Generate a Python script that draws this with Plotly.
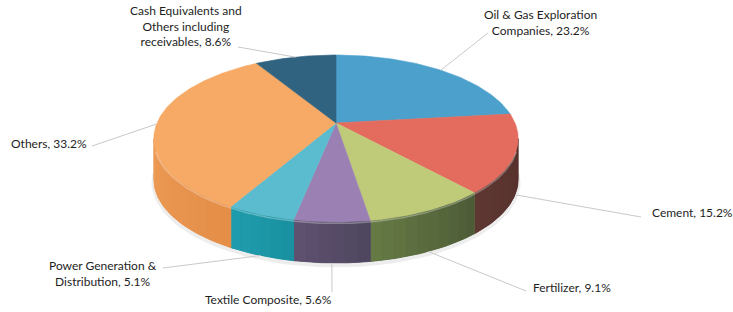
import numpy as np
import plotly.graph_objects as go

# ---------------- data ----------------
labels = ["Oil & Gas Exploration<br>Companies", "Cement", "Fertilizer",
          "Textile Composite", "Power Generation &<br>Distribution", "Others",
          "Cash Equivalents and<br>Others including<br>receivables"]
values = [23.2, 15.2, 9.1, 5.6, 5.1, 33.2, 8.6]

# ---------------- styles ----------------
top_colors = ["#4BA0CC", "#E36C5F", "#BFCB79", "#9B80B3", "#5BBCCF", "#F6AA65", "#2F6380"]
# side colour at the right end (lower angle) and left end (higher angle) of each wall
side_right = ["#2F6A88", "#55302B", "#4C5A36", "#4E465E", "#19909F", "#E48E48", "#1E4255"]
side_left = ["#3A7FA3", "#5E3732", "#667B45", "#5F5171", "#1F9DAE", "#ED9B56", "#244E66"]

# label placement (annotation anchor, leader line end)
label_pos = [
    dict(x=540, y=22, xanchor="center", align="center", lx=488, ly=33),
    dict(x=650, y=212, xanchor="left", align="left", lx=641, ly=217),
    dict(x=531, y=287, xanchor="left", align="left", lx=526, ly=291),
    dict(x=334, y=299, xanchor="right", align="left", lx=332, ly=292),
    dict(x=103, y=273, xanchor="center", align="center", lx=163, ly=268),
    dict(x=89, y=143, xanchor="right", align="left", lx=92, ly=146),
    dict(x=186, y=26, xanchor="center", align="center", lx=238, ly=47),
]

# ---------------- geometry (pixel space) ----------------
W, H = 733, 312
CX, CY = 336, 123
A, B, K = 179, 80.6, 0.1856
DEPTH = 41


def proj(theta_deg, dy=0.0):
    t = np.radians(theta_deg)
    u, v = np.sin(t), np.cos(t)
    w = 1 + K * v
    return CX + A * u / w, CY - B * v / w + dy


theta_r = np.degrees(np.arccos(-K))
theta_l = 360 - theta_r

fig = go.Figure()

total = float(sum(values))
cum = np.concatenate([[0], np.cumsum(values)]) / total * 360.0


def hex2rgb(h):
    h = h.lstrip("#")
    return np.array([int(h[i:i + 2], 16) for i in (0, 2, 4)], dtype=float)


def mix(c1, c2, f):
    c = hex2rgb(c1) * (1 - f) + hex2rgb(c2) * f
    return "rgb(%d,%d,%d)" % tuple(np.round(c).astype(int))


def wall(t0, t1, col, lw):
    tt = np.linspace(t0, t1, max(6, int(t1 - t0)))
    xt, yt = proj(tt)
    xb, yb = proj(tt[::-1], DEPTH)
    fig.add_trace(go.Scatter(
        x=np.concatenate([xt, xb, xt[:1]]), y=np.concatenate([yt, yb, yt[:1]]),
        mode="lines", fill="toself", fillcolor=col,
        line=dict(color=col, width=lw), hoverinfo="skip"))


# shadow under the pie
ts = np.linspace(theta_r - 5, theta_l + 5, 120)
sx, sy = proj(ts, DEPTH + 2)
fig.add_trace(go.Scatter(x=sx, y=sy, mode="lines",
                         line=dict(color="rgba(0,0,0,0.07)", width=5),
                         hoverinfo="skip"))

# side walls: solid base then gradient strips
for i in range(len(values)):
    a, b = cum[i], cum[i + 1]
    s0, s1 = max(a, theta_r), min(b, theta_l)
    if s1 <= s0:
        continue
    wall(s0, s1, mix(side_right[i], side_left[i], 0.5), 0.8)
    n = max(2, int((s1 - s0) / 3))
    edges = np.linspace(s0, s1, n + 1)
    for j in range(n):
        wall(edges[j], edges[j + 1], mix(side_right[i], side_left[i], (j + 0.5) / n), 0)

# top faces
for i in range(len(values)):
    a, b = cum[i], cum[i + 1]
    tt = np.linspace(a, b, max(8, int(b - a)))
    xr, yr = proj(tt)
    fig.add_trace(go.Scatter(
        x=np.concatenate([[CX], xr, [CX]]), y=np.concatenate([[CY], yr, [CY]]),
        mode="lines", fill="toself", fillcolor=top_colors[i],
        line=dict(color=top_colors[i], width=0.6), hoverinfo="skip"))

# front rim highlight
th = np.linspace(theta_r + 8, theta_l - 8, 120)
hx, hy = proj(th, 1.5)
fig.add_trace(go.Scatter(x=hx, y=hy, mode="lines",
                         line=dict(color="rgba(255,255,255,0.30)", width=1.5),
                         hoverinfo="skip"))

# leader lines and labels
for i in range(len(values)):
    mid = (cum[i] + cum[i + 1]) / 2
    dy = DEPTH if theta_r < mid < theta_l else 0
    px, py = proj(mid, dy)
    p = label_pos[i]
    fig.add_trace(go.Scatter(x=[px, p["lx"]], y=[py, p["ly"]], mode="lines",
                             line=dict(color="#C9C9C9", width=1), hoverinfo="skip"))
    fig.add_annotation(x=p["x"], y=p["y"], xref="x", yref="y",
                       text=f"{labels[i]}, {values[i]:.1f}%", showarrow=False,
                       xanchor=p["xanchor"], yanchor="middle", align=p["align"],
                       font=dict(family="Lato, Carlito, sans-serif", size=12, color="#1E1E1E"))

fig.update_layout(
    width=W, height=H, margin=dict(l=0, r=0, t=0, b=0),
    paper_bgcolor="white", plot_bgcolor="white", showlegend=False,
    xaxis=dict(range=[0, W], visible=False, fixedrange=True),
    yaxis=dict(range=[H, 0], visible=False, fixedrange=True),
    hovermode=False,
)

fig.write_html("out.html", config={"displayModeBar": False},
               post_script="document.body.style.margin='0';document.body.style.overflow='hidden';")
